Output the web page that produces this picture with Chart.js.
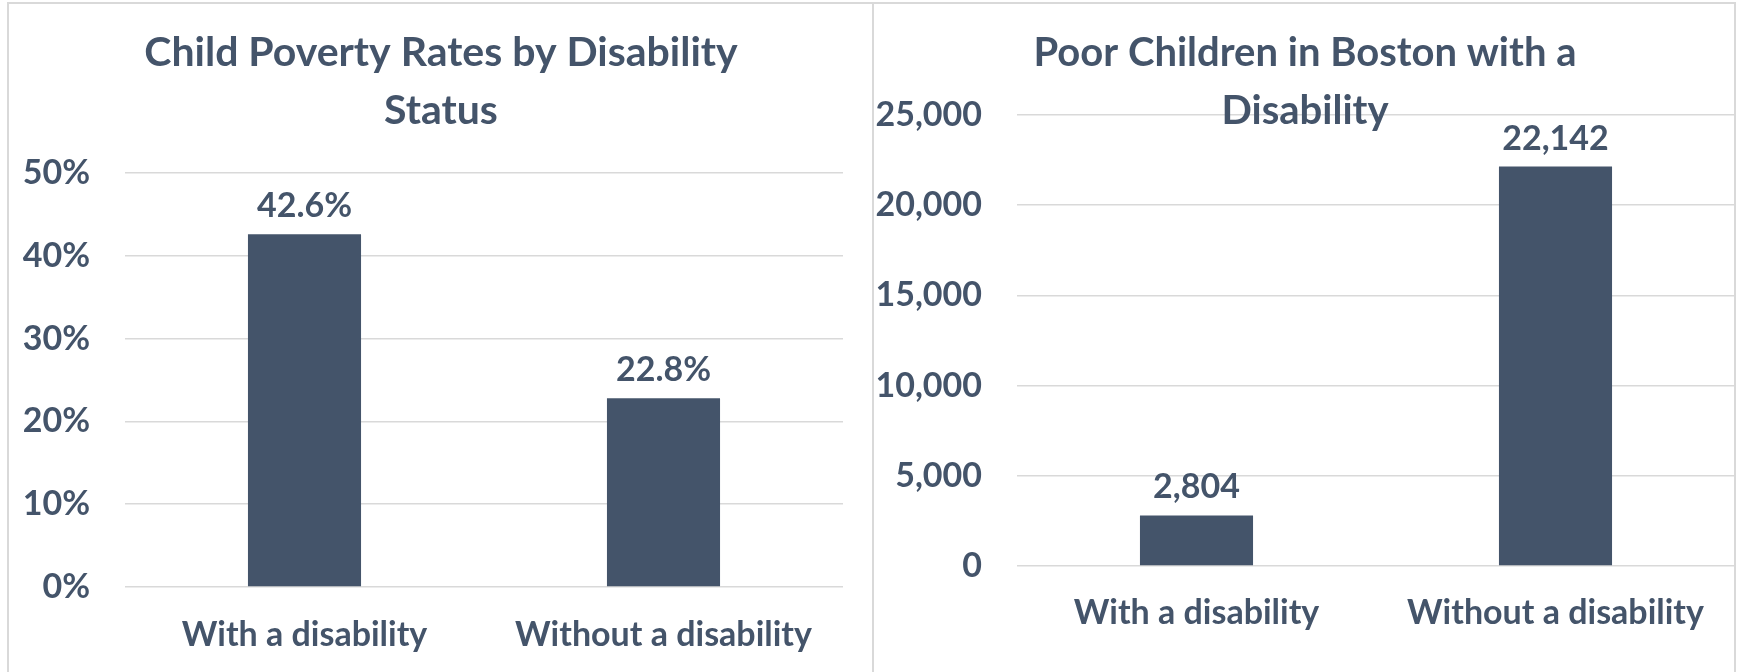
<!DOCTYPE html>
<html>
<head>
<meta charset="utf-8">
<script src="https://cdn.jsdelivr.net/npm/chart.js@4.4.1/dist/chart.umd.min.js"></script>
<style>
html,body{margin:0;padding:0;background:#fff;width:1741px;height:672px;overflow:hidden;}
.panel{position:absolute;box-sizing:border-box;border:2px solid #D9D9D9;border-bottom:none;}
canvas{position:absolute;}
</style>
</head>
<body>
<div class="panel" style="left:7px;top:2px;width:867px;height:670px;"></div>
<div class="panel" style="left:872px;top:2px;width:864px;height:670px;"></div>
<canvas id="c1" width="862" height="667" style="left:10px;top:5px"></canvas>
<canvas id="c2" width="860" height="667" style="left:875px;top:5px"></canvas>
<script>
const categories = ['With a disability', 'Without a disability'];
const povertyRates = [42.6, 22.8];
const poorChildren = [2804, 22142];
const rateTicks = [0, 10, 20, 30, 40, 50];
const countTicks = [0, 5000, 10000, 15000, 20000, 25000];
const rateTitle = ['Child Poverty Rates by Disability', 'Status'];
const countTitle = ['Poor Children in Boston with a', 'Disability'];

const INK = '#44546A';
const BAR = '#44546A';
const GRID = '#D9D9D9';
const FONT = 'Lato';

Chart.defaults.font.family = FONT;
Chart.defaults.color = INK;

const valueLabels = {
  id: 'valueLabels',
  afterDatasetsDraw(chart, args, opts) {
    const ctx = chart.ctx;
    const meta = chart.getDatasetMeta(0);
    ctx.save();
    ctx.font = 'bold ' + opts.size + 'px ' + FONT;
    ctx.fillStyle = INK;
    ctx.textAlign = 'center';
    ctx.textBaseline = 'middle';
    meta.data.forEach((bar, i) => {
      const v = chart.data.datasets[0].data[i];
      ctx.fillText(opts.format(v), bar.x, bar.y - opts.offset);
    });
    ctx.restore();
  }
};

function makeChart(id, values, ticks, title, tickFmt, valueFmt, cfg) {
  return new Chart(document.getElementById(id), {
    type: 'bar',
    data: {
      labels: categories,
      datasets: [{ data: values, backgroundColor: BAR, borderWidth: 0, barPercentage: 0.315, categoryPercentage: 1 }]
    },
    options: {
      responsive: false,
      animation: false,
      devicePixelRatio: 1,
      layout: { padding: 0 },
      plugins: {
        legend: { display: false },
        tooltip: { enabled: false },
        title: {
          display: true, text: title, color: INK,
          font: { size: cfg.titleSize, weight: 'bold', lineHeight: '58px' },
          padding: { top: 19, bottom: cfg.titleBottom }
        },
        valueLabels: { size: 34, offset: 28, format: valueFmt }
      },
      scales: {
        x: {
          grid: { display: false, drawTicks: false },
          border: { display: false },
          ticks: { color: INK, font: { size: 34, weight: 'bold' }, padding: cfg.xPad, maxRotation: 0, autoSkip: false },
          afterFit(s) { s.height = cfg.xHeight; }
        },
        y: {
          min: ticks[0], max: ticks[ticks.length - 1],
          grid: { color: GRID, lineWidth: 1.5, drawTicks: false },
          border: { display: false },
          afterBuildTicks(s) { s.ticks = ticks.map(v => ({ value: v })); },
          ticks: { color: INK, font: { size: 34, weight: 'bold' }, padding: 35, callback: v => tickFmt(v) },
          afterFit(s) { s.width = cfg.yWidth; }
        },
        spacer: {
          type: 'linear', position: 'right', display: true,
          grid: { display: false, drawTicks: false },
          border: { display: false },
          ticks: { display: false },
          afterFit(s) { s.width = cfg.padRight; }
        }
      }
    },
    plugins: [valueLabels]
  });
}

makeChart('c1', povertyRates, rateTicks, rateTitle,
  v => v + '%', v => v.toFixed(1) + '%',
  { padRight: 29, titleBottom: 33, xHeight: 85, xPad: 28, yWidth: 115, titleSize: 41 });

makeChart('c2', poorChildren, countTicks, countTitle,
  v => v.toLocaleString('en-US'), v => v.toLocaleString('en-US'),
  { padRight: 0, titleBottom: -25, xHeight: 106, xPad: 27, yWidth: 142, titleSize: 40 });
</script>
</body>
</html>
